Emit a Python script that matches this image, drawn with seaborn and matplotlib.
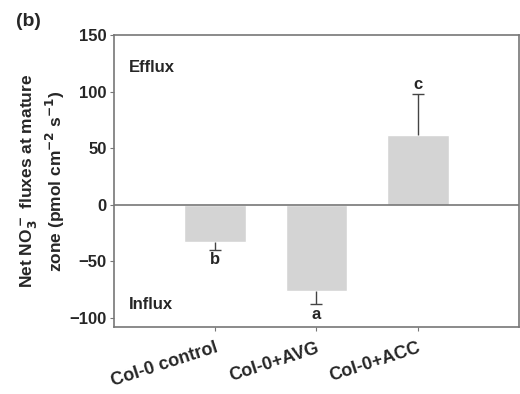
import matplotlib
matplotlib.use("Agg")
import matplotlib.pyplot as plt
import seaborn as sns
import numpy as np
import pandas as pd

# data
groups = ["Col-0 control", "Col-0+AVG", "Col-0+ACC"]
flux = [-33, -76, 62]
sem = [7, 12, 36]
letters = ["b", "a", "c"]

sns.set_style("white")
plt.rcParams['font.family'] = ['Liberation Sans', 'DejaVu Sans']
plt.rcParams['font.weight'] = 'bold'
plt.rcParams['mathtext.default'] = 'bf'

df = pd.DataFrame({"group": groups, "flux": flux})

fig = plt.figure(figsize=(5.2, 3.94), dpi=100)
ax = fig.add_axes([0.219, 0.170, 0.779, 0.741])

sns.barplot(data=df, x="group", y="flux", color="#d4d4d4", width=0.61,
            saturation=1, errorbar=None, ax=ax)

# one-sided error bars, away from zero
xs = np.arange(len(groups))
ends = [v - s if v < 0 else v + s for v, s in zip(flux, sem)]
ax.vlines(xs, flux, ends, color="#444444", lw=1)
ax.hlines(ends, xs - 0.06, xs + 0.06, color="#444444", lw=1)

for i, (e, v, l) in enumerate(zip(ends, flux, letters)):
    if v < 0:
        ax.text(i, e - 2, l, ha="center", va="top", fontsize=12, fontweight="bold")
    else:
        ax.text(i, e + 2, l, ha="center", va="bottom", fontsize=12, fontweight="bold")

ax.axhline(0, color="#777777", lw=1.2)
ax.set_xlim(-1, 3)
ax.set_ylim(-108, 150)
ax.set_yticks([-100, -50, 0, 50, 100, 150])
ax.tick_params(axis="y", labelsize=12, length=3, pad=2, direction="out", color="#777777", left=True)
ax.tick_params(axis="x", labelsize=13, length=3, pad=6, direction="out", color="#777777", bottom=True)
plt.setp(ax.get_xticklabels(), rotation=18, ha="right", rotation_mode="anchor")
for lab in ax.get_xticklabels() + ax.get_yticklabels():
    lab.set_fontweight("bold")

for sp in ax.spines.values():
    sp.set_color("#777777")
    sp.set_linewidth(1.2)

ax.set_xlabel("")
ax.set_ylabel("Net NO$_3^-$ fluxes at mature\nzone (pmol cm$^{-2}$ s$^{-1}$)",
              fontsize=12.5, fontweight="bold", labelpad=2, linespacing=1.25)

ax.text(-0.85, 121, "Efflux", fontsize=12, fontweight="bold", va="center")
ax.text(-0.85, -88, "Influx", fontsize=12, fontweight="bold", va="center")
fig.text(0.03, 0.945, "(b)", fontsize=14, fontweight="bold", va="center")

fig.savefig("out.png", dpi=100)
